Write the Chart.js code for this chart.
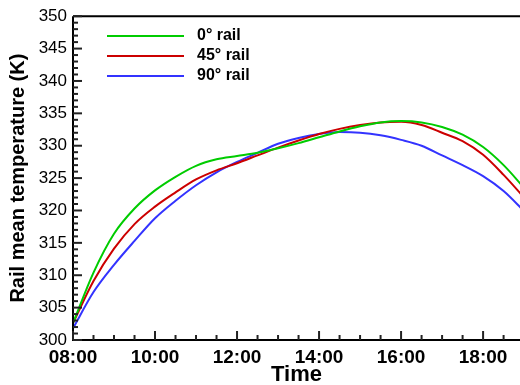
<!DOCTYPE html>
<html>
<head>
<meta charset="utf-8">
<script src="https://cdn.jsdelivr.net/npm/chart.js@4.4.1/dist/chart.umd.min.js"></script>
<style>
  body { margin: 0; background: #fff; }
  #grafico { display: block; }
</style>
</head>
<body>
<canvas id="grafico" width="520" height="385"></canvas>
<script>
// hours of the day (decimal)
const hours = [8, 8.5, 9, 9.5, 10, 10.5, 11, 11.5, 12, 12.5, 13, 13.5, 14, 14.5, 15, 15.5, 16, 16.5, 17, 17.5, 18, 18.5, 19];

// rail mean temperature (K)
const rail0 = [302.6, 310.4, 316.4, 320.3, 323.1, 325.2, 326.9, 327.9, 328.4, 328.9, 329.6, 330.4, 331.3, 332.2, 333.0, 333.6, 333.8, 333.6, 332.9, 331.7, 329.8, 327.0, 323.5];
const rail45 = [302.6, 309.1, 314.1, 317.9, 320.6, 322.8, 324.8, 326.2, 327.3, 328.5, 329.7, 330.8, 331.8, 332.6, 333.2, 333.6, 333.7, 333.2, 332.0, 330.7, 328.6, 325.5, 322.0];
const rail90 = [301.8, 307.4, 311.6, 315.3, 318.8, 321.5, 323.9, 325.9, 327.5, 328.9, 330.3, 331.2, 331.8, 332.1, 332.0, 331.6, 330.9, 330.0, 328.5, 327.0, 325.3, 323.0, 319.9];

const seriesLabels = ["0° rail", "45° rail", "90° rail"];
const seriesColors = ["#00cc00", "#cc0000", "#3333ff"];

const xTicks = [8, 10, 12, 14, 16, 18];

const pontos = (vals) => vals.map((v, i) => ({ x: hours[i], y: v }));

// axis lines, inward ticks and the legend box
const framePlugin = {
  id: "frame",
  afterDraw(chart) {
    const { ctx, chartArea } = chart;
    const { left, right, top, bottom } = chartArea;
    const xs = chart.scales.x;
    const ys = chart.scales.y;
    ctx.save();
    ctx.strokeStyle = "#000";
    ctx.lineWidth = 2;
    ctx.beginPath();
    ctx.moveTo(left, top);
    ctx.lineTo(right, top);
    ctx.moveTo(left, top);
    ctx.lineTo(left, bottom);
    ctx.lineTo(right, bottom);
    ctx.stroke();

    // tick marks, pointing into the plot
    ctx.strokeStyle = "#222";
    for (let v = 300; v <= 350; v++) {
      const y = ys.getPixelForValue(v);
      const major = v % 5 === 0;
      ctx.lineWidth = 2;
      ctx.beginPath();
      ctx.moveTo(left, y);
      ctx.lineTo(left + (major ? 9 : 5), y);
      ctx.stroke();
    }
    for (let h = 8; h <= 18.9; h += 0.5) {
      const x = xs.getPixelForValue(h);
      const major = h % 2 === 0;
      ctx.lineWidth = 2;
      ctx.beginPath();
      ctx.moveTo(x, bottom);
      ctx.lineTo(x, bottom - (major ? 9 : 5));
      ctx.stroke();
    }

    // legenda
    ctx.font = "bold 16px Arial, 'Liberation Sans', sans-serif";
    ctx.fillStyle = "#000";
    ctx.textBaseline = "middle";
    chart.data.datasets.forEach((ds, i) => {
      const y = 36 + i * 20;
      ctx.strokeStyle = ds.borderColor;
      ctx.lineWidth = 2;
      ctx.beginPath();
      ctx.moveTo(107, y);
      ctx.lineTo(184, y);
      ctx.stroke();
      ctx.fillText(ds.label, 197, y);
    });
    ctx.restore();
  },
};

new Chart(document.getElementById("grafico").getContext("2d"), {
  type: "line",
  plugins: [framePlugin],
  data: {
    datasets: [
      { label: seriesLabels[0], data: pontos(rail0), borderColor: seriesColors[0] },
      { label: seriesLabels[1], data: pontos(rail45), borderColor: seriesColors[1] },
      { label: seriesLabels[2], data: pontos(rail90), borderColor: seriesColors[2] },
    ],
  },
  options: {
    responsive: false,
    animation: false,
    layout: { padding: { top: 16, right: 0, left: 0, bottom: 0 } },
    elements: {
      point: { radius: 0 },
      line: { borderWidth: 2, cubicInterpolationMode: "monotone" },
    },
    plugins: {
      legend: { display: false },
      tooltip: { enabled: false },
    },
    scales: {
      x: {
        type: "linear",
        min: 8,
        max: 18.9,
        afterBuildTicks: (scale) => {
          scale.ticks = xTicks.map((v) => ({ value: v }));
        },
        afterFit: (scale) => {
          scale.height = 45;
        },
        grid: { display: false, drawTicks: false },
        border: { display: false },
        ticks: {
          padding: 6,
          color: "#000",
          maxRotation: 0,
          font: { family: "Arial, 'Liberation Sans', sans-serif", size: 19, weight: "bold" },
          callback: (v) => String(v).padStart(2, "0") + ":00",
        },
        title: {
          display: true,
          text: "Time",
          color: "#000",
          padding: { top: 0, bottom: -3 },
          font: { family: "Arial, 'Liberation Sans', sans-serif", size: 22, weight: "bold" },
        },
      },
      y: {
        min: 300,
        max: 350,
        afterFit: (scale) => {
          scale.width = 73;
        },
        grid: { display: false, drawTicks: false },
        border: { display: false },
        ticks: {
          stepSize: 5,
          padding: 6,
          color: "#000",
          font: { family: "Arial, 'Liberation Sans', sans-serif", size: 17 },
        },
        title: {
          display: true,
          text: "Rail mean temperature (K)",
          color: "#000",
          padding: { top: 6, bottom: 0 },
          font: { family: "Arial, 'Liberation Sans', sans-serif", size: 20, weight: "bold" },
        },
      },
    },
  },
});
</script>
</body>
</html>
